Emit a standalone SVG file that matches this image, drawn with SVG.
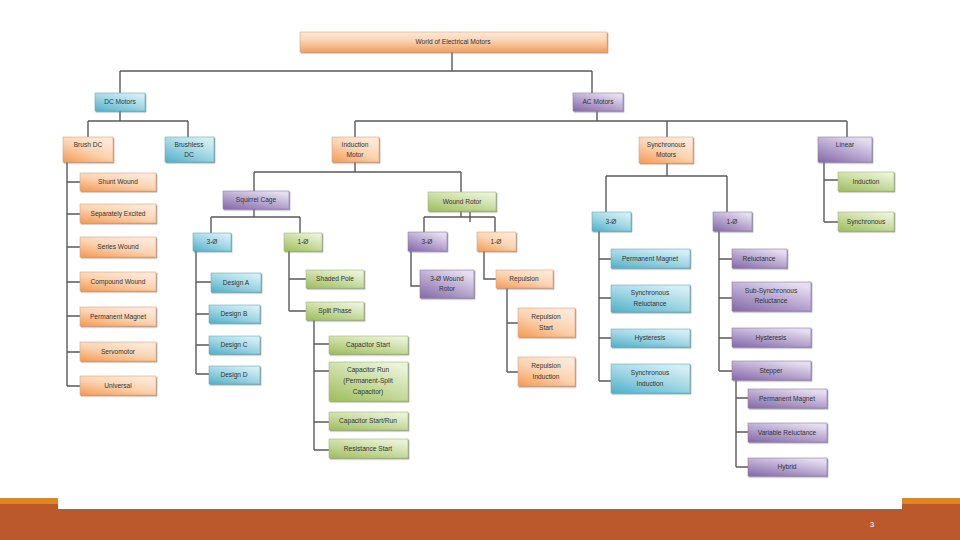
<svg xmlns="http://www.w3.org/2000/svg" width="960" height="540" viewBox="0 0 960 540">
<defs>
<linearGradient id="gO" x1="0" y1="1" x2="0.7" y2="0"><stop offset="0" stop-color="#f59a52"/><stop offset="0.55" stop-color="#fbd3b0"/><stop offset="1" stop-color="#fde9d9"/></linearGradient>
<linearGradient id="gB" x1="0" y1="1" x2="0.7" y2="0"><stop offset="0" stop-color="#4fb0c9"/><stop offset="0.55" stop-color="#9fd6e4"/><stop offset="1" stop-color="#d4eef5"/></linearGradient>
<linearGradient id="gP" x1="0" y1="1" x2="0.7" y2="0"><stop offset="0" stop-color="#8468a8"/><stop offset="0.55" stop-color="#b9a8d0"/><stop offset="1" stop-color="#e6def0"/></linearGradient>
<linearGradient id="gG" x1="0" y1="1" x2="0.7" y2="0"><stop offset="0" stop-color="#9dbd5c"/><stop offset="0.55" stop-color="#c9dca0"/><stop offset="1" stop-color="#eaf2d8"/></linearGradient>
<linearGradient id="gR" x1="0" y1="0" x2="0" y2="1"><stop offset="0" stop-color="#fde9d9"/><stop offset="0.4" stop-color="#fbd6b6"/><stop offset="1" stop-color="#f4a05c"/></linearGradient>
<filter id="sh" x="-10%" y="-10%" width="130%" height="150%"><feDropShadow dx="1" dy="1.2" stdDeviation="0.7" flood-color="#777" flood-opacity="0.7"/></filter>
</defs>
<style>
rect.n{filter:url(#sh);stroke-width:0.6}
.o{fill:url(#gO);stroke:#e8a070}
.b{fill:url(#gB);stroke:#5aaec4}
.p{fill:url(#gP);stroke:#8c78ad}
.g{fill:url(#gG);stroke:#9fbb6a}
.r{fill:url(#gR);stroke:#e8a070}
text{font-family:"Liberation Sans","DejaVu Sans",sans-serif;font-size:6.6px;fill:#333;text-anchor:middle}
#connectors path{fill:none;stroke:#5a5a5a;stroke-width:1.4}
</style>
<rect width="960" height="540" fill="#fff"/>
<g id="connectors">
<path d="M452,52V71M120,71H592M120,71V93M592,71V93"/>
<path d="M120,111V121M88,121H188M88,121V137M188,121V137"/>
<path d="M597,111V121M355,121H847M355,121V137M667,121V137M847,121V137"/>
<path d="M67,162V386M67,182H80M67,214H80M67,247H80M67,282H80M67,316H80M67,352H80M67,386H80"/>
<path d="M355,162V172M254,172H461M254,172V191M461,172V192"/>
<path d="M254,209V217M211,217H300M211,217V233M300,217V233"/>
<path d="M196,251V374M196,282H211M196,314H209M196,345H209M196,374H209"/>
<path d="M289,251V311M289,279H306M289,311H306"/>
<path d="M314,320V450M314,344H329M314,371H329M314,422H329M314,450H329"/>
<path d="M461,211V217M424,217H495M424,217V232M495,217V232M470,212V222"/>
<path d="M411,251V286H420M484,251V279H496"/>
<path d="M507,288V372M507,323H518M507,372H518"/>
<path d="M824,162V222M824,180H838M824,222H838"/>
<path d="M667,163V176M606,176H727M606,176V212M727,176V212"/>
<path d="M599,231V381M599,259H611M599,298H611M599,338H611M599,381H611"/>
<path d="M719,231V371M719,259H732M719,298H732M719,338H732M719,371H732"/>
<path d="M736,380V467M736,398H748M736,432H748M736,467H748"/>
</g>
<g id="root"><rect class="n r" x="300" y="32" width="307" height="20"/><text x="453" y="44">World of Electrical Motors</text></g>
<g id="dc-motors"><rect class="n b" x="95" y="93" width="50" height="18"/><text x="120" y="104">DC Motors</text></g>
<g id="ac-motors"><rect class="n p" x="573" y="93" width="50" height="18"/><text x="598" y="104">AC Motors</text></g>
<g id="brush-dc"><rect class="n o" x="63" y="137" width="50" height="25"/><text x="88" y="147">Brush DC</text></g>
<g id="brushless-dc"><rect class="n b" x="165" y="137" width="49" height="25"/><text x="189" y="147">Brushless</text><text x="189" y="157">DC</text></g>
<g id="induction-motor"><rect class="n o" x="332" y="137" width="47" height="25"/><text x="355" y="147">Induction</text><text x="355" y="157">Motor</text></g>
<g id="synchronous-motors"><rect class="n o" x="639" y="137" width="54" height="26"/><text x="666" y="147">Synchronous</text><text x="666" y="157">Motors</text></g>
<g id="linear"><rect class="n p" x="818" y="137" width="54" height="25"/><text x="845" y="147">Linear</text></g>
<g id="shunt-wound"><rect class="n o" x="80" y="173" width="76" height="18"/><text x="118" y="184">Shunt Wound</text></g>
<g id="separately-excited"><rect class="n o" x="80" y="204" width="76" height="19"/><text x="118" y="216">Separately Excited</text></g>
<g id="series-wound"><rect class="n o" x="80" y="237" width="76" height="20"/><text x="118" y="249">Series Wound</text></g>
<g id="compound-wound"><rect class="n o" x="80" y="272" width="76" height="19"/><text x="118" y="284">Compound Wound</text></g>
<g id="permanent-magnet-dc"><rect class="n o" x="80" y="307" width="76" height="19"/><text x="118" y="319">Permanent Magnet</text></g>
<g id="servomotor"><rect class="n o" x="80" y="342" width="76" height="19"/><text x="118" y="354">Servomotor</text></g>
<g id="universal"><rect class="n o" x="80" y="376" width="76" height="19"/><text x="118" y="388">Universal</text></g>
<g id="lin-induction"><rect class="n g" x="838" y="172" width="56" height="19"/><text x="866" y="184">Induction</text></g>
<g id="lin-synchronous"><rect class="n g" x="838" y="212" width="56" height="19"/><text x="866" y="224">Synchronous</text></g>
<g id="squirrel-cage"><rect class="n p" x="223" y="191" width="66" height="18"/><text x="256" y="202">Squirrel Cage</text></g>
<g id="wound-rotor"><rect class="n g" x="428" y="192" width="68" height="19"/><text x="462" y="204">Wound Rotor</text></g>
<g id="sc-3ph"><rect class="n b" x="193" y="233" width="38" height="18"/><text x="212" y="244">3-Ø</text></g>
<g id="sc-1ph"><rect class="n g" x="284" y="233" width="38" height="18"/><text x="303" y="244">1-Ø</text></g>
<g id="design-a"><rect class="n b" x="211" y="273" width="50" height="19"/><text x="236" y="285">Design A</text></g>
<g id="design-b"><rect class="n b" x="209" y="305" width="51" height="18"/><text x="234" y="316">Design B</text></g>
<g id="design-c"><rect class="n b" x="209" y="336" width="51" height="18"/><text x="234" y="347">Design C</text></g>
<g id="design-d"><rect class="n b" x="209" y="366" width="51" height="18"/><text x="234" y="377">Design D</text></g>
<g id="shaded-pole"><rect class="n g" x="306" y="270" width="58" height="18"/><text x="335" y="281">Shaded Pole</text></g>
<g id="split-phase"><rect class="n g" x="306" y="302" width="58" height="18"/><text x="335" y="313">Split Phase</text></g>
<g id="capacitor-start"><rect class="n g" x="329" y="336" width="79" height="18"/><text x="368" y="347">Capacitor Start</text></g>
<g id="capacitor-run"><rect class="n g" x="329" y="362" width="79" height="39"/><text x="368" y="372">Capacitor Run</text><text x="368" y="383">(Permanent-Split</text><text x="368" y="394">Capacitor)</text></g>
<g id="capacitor-start-run"><rect class="n g" x="329" y="412" width="79" height="18"/><text x="368" y="423">Capacitor Start/Run</text></g>
<g id="resistance-start"><rect class="n g" x="329" y="439" width="79" height="19"/><text x="368" y="451">Resistance Start</text></g>
<g id="wr-3ph"><rect class="n p" x="408" y="232" width="39" height="19"/><text x="427" y="244">3-Ø</text></g>
<g id="wr-1ph"><rect class="n o" x="477" y="232" width="39" height="19"/><text x="496" y="244">1-Ø</text></g>
<g id="wr-3ph-wound-rotor"><rect class="n p" x="420" y="270" width="54" height="28"/><text x="447" y="281">3-Ø Wound</text><text x="447" y="291">Rotor</text></g>
<g id="repulsion"><rect class="n o" x="496" y="270" width="57" height="18"/><text x="524" y="281">Repulsion</text></g>
<g id="repulsion-start"><rect class="n o" x="518" y="308" width="57" height="29"/><text x="546" y="319">Repulsion</text><text x="546" y="330">Start</text></g>
<g id="repulsion-induction"><rect class="n o" x="518" y="357" width="57" height="29"/><text x="546" y="368">Repulsion</text><text x="546" y="379">Induction</text></g>
<g id="sync-3ph"><rect class="n b" x="592" y="212" width="39" height="19"/><text x="611" y="224">3-Ø</text></g>
<g id="sync-1ph"><rect class="n p" x="713" y="212" width="39" height="19"/><text x="732" y="224">1-Ø</text></g>
<g id="permanent-magnet-sync"><rect class="n b" x="611" y="249" width="79" height="19"/><text x="650" y="261">Permanent Magnet</text></g>
<g id="synchronous-reluctance"><rect class="n b" x="611" y="285" width="79" height="27"/><text x="650" y="295">Synchronous</text><text x="650" y="306">Reluctance</text></g>
<g id="hysteresis-3ph"><rect class="n b" x="611" y="329" width="79" height="18"/><text x="650" y="340">Hysteresis</text></g>
<g id="synchronous-induction"><rect class="n b" x="611" y="364" width="79" height="29"/><text x="650" y="375">Synchronous</text><text x="650" y="386">Induction</text></g>
<g id="reluctance"><rect class="n p" x="732" y="249" width="55" height="19"/><text x="759" y="261">Reluctance</text></g>
<g id="sub-synchronous-reluctance"><rect class="n p" x="732" y="282" width="79" height="29"/><text x="771" y="293">Sub-Synchronous</text><text x="771" y="303">Reluctance</text></g>
<g id="hysteresis-1ph"><rect class="n p" x="732" y="328" width="79" height="19"/><text x="771" y="340">Hysteresis</text></g>
<g id="stepper"><rect class="n p" x="732" y="361" width="79" height="19"/><text x="771" y="373">Stepper</text></g>
<g id="stepper-permanent-magnet"><rect class="n p" x="748" y="389" width="79" height="19"/><text x="787" y="401">Permanent Magnet</text></g>
<g id="variable-reluctance"><rect class="n p" x="748" y="423" width="79" height="19"/><text x="787" y="435">Variable Reluctance</text></g>
<g id="hybrid"><rect class="n p" x="748" y="458" width="79" height="18"/><text x="787" y="469">Hybrid</text></g>
<g id="footer">
<rect x="0" y="498" width="960" height="7" fill="#e2841c"/>
<rect x="0" y="504" width="960" height="36" fill="#bc592c"/>
<rect x="58" y="497" width="844" height="12" fill="#fff"/>
<text x="872" y="527" style="fill:#fff;font-size:8px">3</text>
</g>
</svg>
